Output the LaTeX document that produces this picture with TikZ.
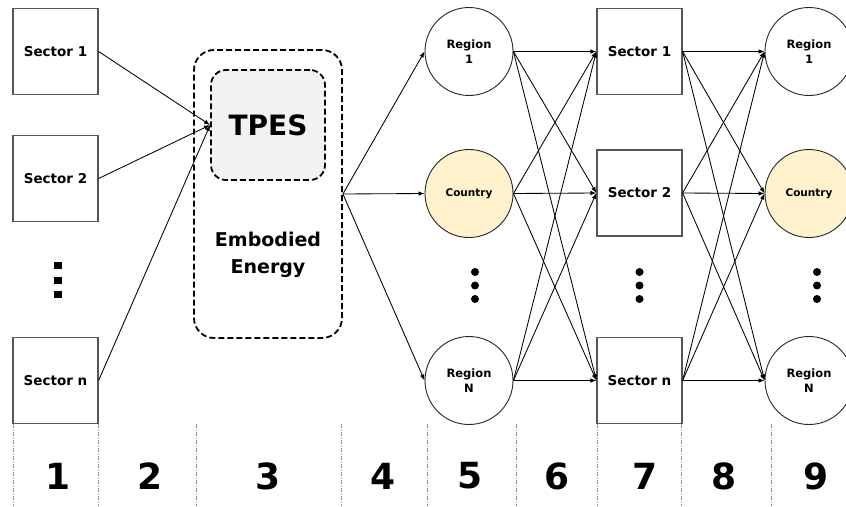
\documentclass[tikz,border=0pt]{standalone}
\usepackage{fontspec}
\setmainfont{DejaVu Sans}
\usetikzlibrary{arrows.meta}
\definecolor{countryfill}{RGB}{255,242,204}
\definecolor{tpesfill}{RGB}{242,242,242}
\definecolor{boxline}{RGB}{85,85,85}
\definecolor{sepline}{RGB}{150,150,150}
\begin{document}
\begin{tikzpicture}[x=1pt,y=-1pt,
  sectorbox/.style={draw=boxline, line width=1.2pt, minimum width=85pt, minimum height=86pt, inner sep=0pt, font=\bfseries\fontsize{13.5}{16}\selectfont},
  regioncirc/.style={draw=black!85, line width=0.9pt, circle, minimum size=88pt, inner sep=0pt, align=center, font=\bfseries\fontsize{11.5}{15}\selectfont},
  countrycirc/.style={regioncirc, fill=countryfill, font=\bfseries\fontsize{10.5}{13}\selectfont},
  flow/.style={-{Latex[length=6pt,width=4.5pt]}, line width=0.85pt},
  sep/.style={draw=sepline, line width=0.6pt, dash pattern=on 4pt off 1.5pt on 1pt off 1.5pt},
  numlabel/.style={font=\bfseries\fontsize{36}{40}\selectfont, inner sep=0pt},
  sqdot/.style={fill=black, minimum width=8pt, minimum height=7pt, inner sep=0pt},
  rddot/.style={fill=black, circle, minimum size=8pt, inner sep=0pt},
  outerdash/.style={draw=black, line width=1.8pt, dash pattern=on 6pt off 3pt, rounded corners=20pt},
  innerdash/.style={draw=black, fill=tpesfill, line width=1.8pt, dash pattern=on 6pt off 3pt, rounded corners=15pt}
]
\useasboundingbox (0,0) rectangle (846,506);

% column 1
\node[sectorbox] (a1) at (55.5,51.5) {Sector 1};
\node[sectorbox] (a2) at (55.5,178.5) {Sector 2};
\node[sectorbox] (an) at (55.5,380.5) {Sector n};
\node[sqdot] (ad1) at (58,265) {};
\node[sqdot] (ad2) at (58,280) {};
\node[sqdot] (ad3) at (58,294.5) {};

% column 3
\node[outerdash, minimum width=148pt, minimum height=288pt] (emb) at (268,194) {};
\node[innerdash, minimum width=114pt, minimum height=110pt, font=\bfseries\fontsize{28}{32}\selectfont] (tpes) at (268,125) {TPES};
\node[align=center, font=\bfseries\fontsize{19}{27}\selectfont] (embtxt) at (268,255) {Embodied\\Energy};

% column 5
\node[regioncirc] (r1) at (469,51.5) {Region\\1};
\node[countrycirc] (rc) at (469,193.5) {Country};
\node[regioncirc] (rn) at (469,380.5) {Region\\N};
\node[rddot] (rd1) at (475,272) {};
\node[rddot] (rd2) at (475,285.5) {};
\node[rddot] (rd3) at (475,299) {};

% column 7
\node[sectorbox] (s1) at (639.5,51.5) {Sector 1};
\node[sectorbox] (s2) at (639.5,193) {Sector 2};
\node[sectorbox] (sn) at (639.5,380.5) {Sector n};
\node[rddot] (sd1) at (639.5,272) {};
\node[rddot] (sd2) at (639.5,285.5) {};
\node[rddot] (sd3) at (639.5,299) {};

% column 9
\node[regioncirc] (q1) at (809,51.5) {Region\\1};
\node[countrycirc] (qc) at (809,193.5) {Country};
\node[regioncirc] (qn) at (809,380.5) {Region\\N};
\node[rddot] (qd1) at (817,272) {};
\node[rddot] (qd2) at (817,285.5) {};
\node[rddot] (qd3) at (817,299) {};

% connectors
\foreach \s in {a1,a2,an} \draw[flow] (\s.east) -- (tpes.west);
\foreach \r in {r1,rc,rn} \draw[flow] (emb.east) -- (\r.west);
\foreach \r in {r1,rc,rn} \foreach \s in {s1,s2,sn} \draw[flow] (\r.east) -- (\s.west);
\foreach \s in {s1,s2,sn} \foreach \q in {q1,qc,qn} \draw[flow] (\s.east) -- (\q.west);

% separators
\foreach \x [count=\i] in {13,98,196,341,427,516,597,681,771} {
  \coordinate (ts\i) at (\x,424);
  \coordinate (bs\i) at (\x,506);
  \draw[sep] (ts\i) -- (bs\i);
}

% step numbers
\node[numlabel] (n1) at (58,476) {1};
\node[numlabel] (n2) at (150,476) {2};
\node[numlabel] (n3) at (268,476) {3};
\node[numlabel] (n4) at (383,476) {4};
\node[numlabel] (n5) at (470,476) {5};
\node[numlabel] (n6) at (557,476) {6};
\node[numlabel] (n7) at (645,476) {7};
\node[numlabel] (n8) at (724,476) {8};
\node[numlabel] (n9) at (816,476) {9};
\end{tikzpicture}
\end{document}
